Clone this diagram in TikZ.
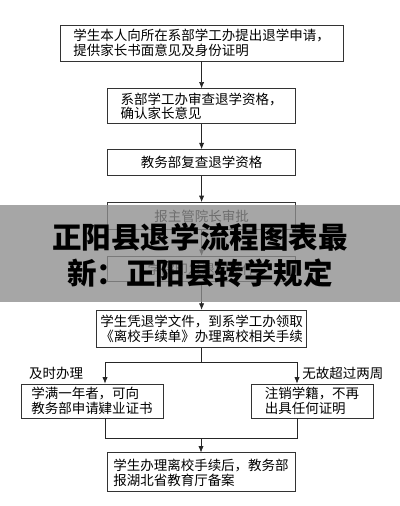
\documentclass[tikz,border=0pt]{standalone}
\usepackage{fontspec}
\setmainfont{Noto Sans CJK SC}
\usepackage{tikz}
\usetikzlibrary{arrows.meta, positioning}

\begin{document}
\begin{tikzpicture}[
  node distance=0.65cm,
  every node/.style={font=\fontsize{9.6}{10.6}\selectfont},
  box/.style={rectangle, draw=black!80, line width=0.6pt, minimum width=4.7cm, minimum height=0.65cm, align=left, inner sep=2pt},
  lbl/.style={inner sep=0pt},
  arr/.style={-{Latex[length=1.6mm, width=1.3mm]}, line width=0.5pt, draw=black!85},
  lin/.style={line width=0.5pt, draw=black!85}
]
\useasboundingbox (0,0) rectangle (10,-12.65);
\fill[white] (0,0) rectangle (10,-12.65);

% main column
\node[box, minimum width=7.075cm, minimum height=0.9cm] (apply) at (5.04,-1.075)
  {学生本人向所在系部学工办提出退学申请，\\提供家长书面意见及身份证明};
\node[box, minimum height=0.875cm, below=0.675cm of apply] (dept)
  {系部学工办审查退学资格，\\确认家长意见};
\node[box, below=0.625cm of dept] (recheck) {教务部复查退学资格};
\node[box, minimum height=0.675cm, below=of recheck] (dean) {报主管院长审批};
\node[box, minimum height=0.625cm, below=of dean] (issue) {学院印发退学文件};
\node[box, minimum width=5.25cm, minimum height=0.925cm, below=0.7cm of issue] (leave)
  {学生凭退学文件，到系学工办领取\\《离校手续单》办理离校相关手续};

% two branches
\node[box, minimum width=3.55cm, minimum height=0.85cm] (cert) at (2.3,-10.025)
  {学满一年者，可向\\教务部申请肄业证书};
\node[box, minimum width=3.05cm, minimum height=0.85cm] (cancel) at (7.8,-10.025)
  {注销学籍，不再\\出具任何证明};
\node[box, minimum height=0.975cm] (record) at (5.025,-11.81)
  {学生办理离校手续后，教务部\\报湖北省教育厅备案};

\node[lbl, anchor=west] (intime) at (0.72,-9.33) {及时办理};
\node[lbl, anchor=west] (late) at (7.55,-9.33) {无故超过两周};

\coordinate (split) at (5.025,-9.05);
\coordinate (splitL) at (2.625,-9.05);
\coordinate (splitR) at (7.425,-9.05);
\coordinate (joinL) at (2.625,-10.95);
\coordinate (joinR) at (7.425,-10.95);
\coordinate (join) at (5.025,-10.95);

\draw[arr] (apply) -- (dept);
\draw[arr] (dept) -- (recheck);
\draw[arr] (recheck) -- (dean);
\draw[arr] (dean) -- (issue);
\draw[arr] (issue) -- (leave);
\draw[lin] (leave.south -| split) -- (split);
\draw[lin] (splitL) -- (splitR);
\draw[arr] (splitL) -- (splitL |- cert.north);
\draw[arr] (splitR) -- (splitR |- cancel.north);
\draw[lin] (joinL |- cert.south) -- (joinL) -- (joinR) -- (joinR |- cancel.south);
\draw[arr] (join) -- (record);

% title banner over the chart
\fill[fill={rgb,255:red,141;green,141;blue,141}, opacity=0.78] (0,-5.125) rectangle (10,-7.55);
\node[align=center, font=\fontsize{21}{25.6}\selectfont\bfseries] (title) at (5.0,-6.375)
  {正阳县退学流程图表最\\新：正阳县转学规定};
\end{tikzpicture}
\end{document}
